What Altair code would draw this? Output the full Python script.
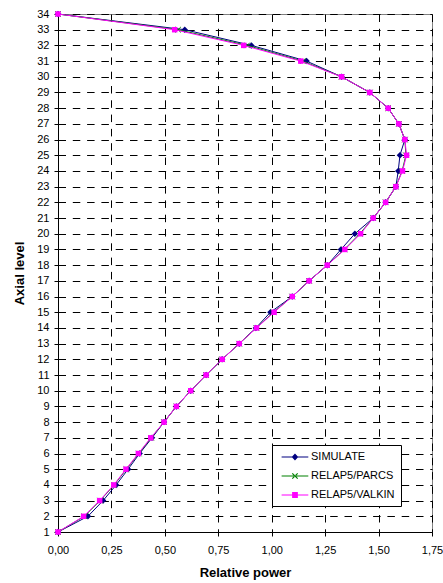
import altair as alt
import pandas as pd

levels = list(range(1, 35))
simulate = [0.000, 0.140, 0.211, 0.272, 0.328, 0.382, 0.440, 0.496, 0.554, 0.621,
            0.693, 0.768, 0.848, 0.926, 0.994, 1.096, 1.175, 1.260, 1.324, 1.389,
            1.475, 1.533, 1.581, 1.592, 1.600, 1.623, 1.595, 1.545, 1.459, 1.327,
            1.163, 0.905, 0.593, 0.000]
parcs = [0.000, 0.123, 0.197, 0.263, 0.320, 0.378, 0.436, 0.496, 0.554, 0.621,
         0.693, 0.768, 0.848, 0.928, 1.008, 1.096, 1.175, 1.260, 1.340, 1.412,
         1.475, 1.533, 1.581, 1.610, 1.628, 1.623, 1.595, 1.545, 1.459, 1.327,
         1.145, 0.885, 0.562, 0.000]
valkin = [0.000, 0.120, 0.195, 0.261, 0.318, 0.376, 0.434, 0.496, 0.554, 0.621,
          0.693, 0.768, 0.848, 0.929, 1.011, 1.096, 1.175, 1.260, 1.342, 1.416,
          1.475, 1.533, 1.581, 1.612, 1.631, 1.623, 1.595, 1.545, 1.459, 1.327,
          1.136, 0.869, 0.546, 0.000]
series_names = ["SIMULATE", "RELAP5/PARCS", "RELAP5/VALKIN"]
series_colors = ["#000080", "#008000", "#FF00FF"]
x_ticks = [0.0, 0.25, 0.5, 0.75, 1.0, 1.25, 1.5, 1.75]
y_ticks = levels

rows = []
for name, vals in zip(series_names, [simulate, parcs, valkin]):
    for lv, v in zip(levels, vals):
        rows.append({"series": name, "level": lv, "power": v})
df = pd.DataFrame(rows)

FONT = "Liberation Sans"

x_enc = alt.X(
    "power:Q",
    scale=alt.Scale(domain=[0, 1.75], nice=False, zero=False),
    axis=alt.Axis(
        values=x_ticks,
        labelExpr="replace(format(datum.value, '.2f'), '.', ',')",
        title="Relative power",
        tickSize=4,
        labelPadding=8,
        titlePadding=11,
        labelFlush=False,
    ),
)
y_enc = alt.Y(
    "level:Q",
    scale=alt.Scale(domain=[1, 34], nice=False, zero=False),
    axis=alt.Axis(
        values=y_ticks,
        title="Axial level",
        tickSize=4,
        labelPadding=5,
        titlePadding=10,
        labelFlush=False,
    ),
)

base = alt.Chart(df)

# legend symbol paths: line segment with the marker in the middle
def line_path():
    return "M-0.4,-0.09H4.05V0.09H-0.4Z"

cx = 1.83
diamond_p = line_path() + f"M{cx-0.55},0L{cx},-0.6L{cx+0.55},0L{cx},0.6Z"
square_p = line_path() + f"M{cx-0.48},-0.48H{cx+0.48}V0.48H{cx-0.48}Z"
a, d = 0.45, 0.07
cross_p = (line_path()
           + f"M{cx-a+d},{-a-d}L{cx+a+d},{a-d}L{cx+a-d},{a+d}L{cx-a-d},{-a+d}Z"
           + f"M{cx-a+d},{a+d}L{cx+a+d},{-a+d}L{cx+a-d},{-a-d}L{cx-a-d},{a-d}Z")
legend_paths = [diamond_p, cross_p, square_p]

marker_specs = [
    dict(shape="diamond", filled=True, size=42),
    dict(shape="M-1,-1L1,1M-1,1L1,-1", filled=False, size=30, strokeWidth=1),
    dict(shape="square", filled=True, size=30),
]

layers = []
for i, (name, col) in enumerate(zip(series_names, series_colors)):
    sub = base.transform_filter(alt.datum.series == name)
    line = sub.mark_line(color=col, strokeWidth=1).encode(
        x=x_enc, y=y_enc, order=alt.Order("level:Q")
    )
    pts = sub.mark_point(color=col, opacity=1, **marker_specs[i]).encode(x=x_enc, y=y_enc)
    layers += [line, pts]

legend_layer = base.transform_filter("false").mark_point(filled=True, opacity=1).encode(
    x=x_enc,
    y=y_enc,
    color=alt.Color(
        "series:N",
        scale=alt.Scale(domain=series_names, range=series_colors),
        legend=alt.Legend(title=None),
    ),
    shape=alt.Shape(
        "series:N",
        scale=alt.Scale(domain=series_names, range=legend_paths),
        legend=alt.Legend(title=None),
    ),
)
layers.append(legend_layer)

chart = alt.layer(*layers).properties(
    width=374,
    height=518,
    autosize=alt.AutoSizeParams(type="none"),
    padding={"left": 58, "top": 14, "right": 11, "bottom": 51},
).configure_view(
    stroke="#808080", strokeWidth=1
).configure_axis(
    grid=True,
    gridColor="#000000",
    gridDash=[7.5, 6.8],
    gridWidth=1,
    gridOpacity=1,
    domainColor="#000000",
    domainWidth=1,
    tickColor="#000000",
    labelFont=FONT,
    labelFontSize=11,
    labelColor="#000000",
    titleFont=FONT,
    titleFontSize=13,
    titleFontWeight="bold",
    titleColor="#000000",
).configure_legend(
    orient="none",
    legendX=214,
    legendY=431,
    padding=6,
    rowPadding=8,
    labelOffset=21,
    symbolSize=144,
    symbolStrokeWidth=0,
    labelFont=FONT,
    labelFontSize=11,
    labelColor="#000000",
    fillColor="#FFFFFF",
    strokeColor="#000000",
    cornerRadius=0,
)

chart.save("out.html", embed_options={"renderer": "svg", "actions": False})
